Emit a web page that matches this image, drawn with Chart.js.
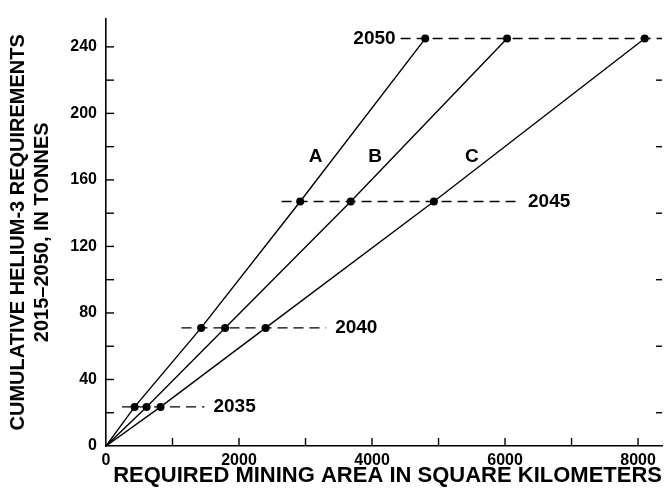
<!DOCTYPE html>
<html>
<head>
<meta charset="utf-8">
<script src="https://cdn.jsdelivr.net/npm/chart.js@4/dist/chart.umd.min.js"></script>
<style>
  html, body { margin: 0; padding: 0; background: #fff; }
  #heliumChart { display: block; }
</style>
</head>
<body>
<canvas id="heliumChart" width="666" height="491"></canvas>
<script>
// years on the dashed lines and the helium-3 needed by each (tonnes)
const years = ["2035", "2040", "2045", "2050"];
const requirement = [23.5, 71, 147, 245];

// mining area for each case at each year (sq km)
const areaA = [430, 1430, 2920, 4800];
const areaB = [610, 1790, 3680, 6030];
const areaC = [820, 2400, 4930, 8100];
const caseNames = ["A", "B", "C"];

// where each dashed year line starts and ends (sq km)
const dashStart = [240, 1135, 2640, 4430];
const dashEnd = [1480, 3310, 6210, 8360];

const xTickLabels = [0, 2000, 4000, 6000, 8000];
const yTickLabels = [0, 40, 80, 120, 160, 200, 240];

const FONT = "'Liberation Sans', Arial, sans-serif";

function caseLine(areas) {
  const pts = [{ x: 0, y: 0 }];
  areas.forEach((a, i) => pts.push({ x: a, y: requirement[i] }));
  return {
    data: pts,
    showLine: true,
    borderColor: "#000",
    borderWidth: 1.4,
    backgroundColor: "#000",
    pointRadius: pts.map((p, i) => (i === 0 ? 0 : 4)),
    pointBorderWidth: 0
  };
}

function yearLine(i) {
  return {
    data: [{ x: dashStart[i], y: requirement[i] }, { x: dashEnd[i], y: requirement[i] }],
    showLine: true,
    borderColor: "#000",
    borderWidth: 1.4,
    borderDash: [10, 6],
    pointRadius: 0
  };
}

// labels for the case lines, placed in data units
const caseLabelAt = [
  { x: 3150, y: 174 },
  { x: 4045, y: 174 },
  { x: 5500, y: 174 }
];

const annotate = {
  id: "annotate",
  afterDraw(chart) {
    const { ctx, scales: { x, y } } = chart;
    ctx.save();
    ctx.strokeStyle = "#000";
    ctx.lineWidth = 1.4;

    // inward tick marks
    for (let v = 1000; v <= 8000; v += 1000) {
      const px = x.getPixelForValue(v);
      ctx.beginPath();
      ctx.moveTo(px, y.bottom);
      ctx.lineTo(px, y.bottom - 8);
      ctx.stroke();
    }
    for (let v = 20; v <= 240; v += 20) {
      const py = y.getPixelForValue(v);
      ctx.beginPath();
      ctx.moveTo(x.left, py);
      ctx.lineTo(x.left + 8, py);
      ctx.stroke();
    }
    // ticks of the cut-off right frame
    for (let v = 20; v <= 220; v += 40) {
      const py = y.getPixelForValue(v);
      ctx.beginPath();
      ctx.moveTo(x.right, py);
      ctx.lineTo(x.right - 6, py);
      ctx.stroke();
    }

    ctx.fillStyle = "#000";
    ctx.font = "bold 19px " + FONT;
    ctx.textBaseline = "middle";
    years.forEach((yr, i) => {
      const py = y.getPixelForValue(requirement[i]);
      if (i === years.length - 1) {
        ctx.textAlign = "right";
        ctx.fillText(yr, x.getPixelForValue(dashStart[i]) - 5, py);
      } else {
        ctx.textAlign = "left";
        ctx.fillText(yr, x.getPixelForValue(dashEnd[i]) + 9, py);
      }
    });

    ctx.textAlign = "center";
    caseNames.forEach((name, i) => {
      ctx.fillText(name, x.getPixelForValue(caseLabelAt[i].x), y.getPixelForValue(caseLabelAt[i].y));
    });
    ctx.restore();
  }
};

new Chart(document.getElementById("heliumChart"), {
  type: "scatter",
  data: {
    datasets: [
      caseLine(areaA),
      caseLine(areaB),
      caseLine(areaC),
      yearLine(0),
      yearLine(1),
      yearLine(2),
      yearLine(3)
    ]
  },
  options: {
    responsive: false,
    animation: false,
    devicePixelRatio: 1,
    layout: { padding: { top: 18, right: 0, bottom: 0, left: 0 } },
    plugins: {
      legend: { display: false },
      tooltip: { enabled: false }
    },
    scales: {
      x: {
        type: "linear",
        min: 0,
        max: 8360,
        afterBuildTicks: s => { s.ticks = xTickLabels.map(v => ({ value: v })); },
        afterFit: s => { s.height = 45; },
        grid: { display: false, drawTicks: false, tickLength: 0 },
        border: { display: true, color: "#000", width: 1.6 },
        ticks: {
          autoSkip: false,
          maxRotation: 0,
          minRotation: 0,
          padding: 5,
          color: "#000",
          font: { family: FONT, size: 16, weight: "bold" },
          callback: v => String(v)
        },
        title: {
          display: true,
          align: "end",
          text: "REQUIRED MINING AREA IN SQUARE KILOMETERS",
          color: "#000",
          font: { family: FONT, size: 22, weight: "bold", lineHeight: 1.2 },
          padding: { top: 0, bottom: 2 }
        }
      },
      y: {
        type: "linear",
        min: 0,
        max: 257,
        afterBuildTicks: s => { s.ticks = yTickLabels.map(v => ({ value: v })); },
        afterFit: s => { s.width = 106; },
        grid: { display: false, drawTicks: false, tickLength: 0 },
        border: { display: true, color: "#000", width: 1.6 },
        ticks: {
          autoSkip: false,
          padding: 9,
          color: "#000",
          font: { family: FONT, size: 16, weight: "bold" },
          callback: v => String(v)
        },
        title: {
          display: true,
          text: ["CUMULATIVE HELIUM-3 REQUIREMENTS", "2015\u20132050, IN TONNES"],
          color: "#000",
          font: { family: FONT, size: 20, weight: "bold", lineHeight: 1.2 },
          padding: { top: 6, bottom: 0 }
        }
      }
    }
  },
  plugins: [annotate]
});
</script>
</body>
</html>
